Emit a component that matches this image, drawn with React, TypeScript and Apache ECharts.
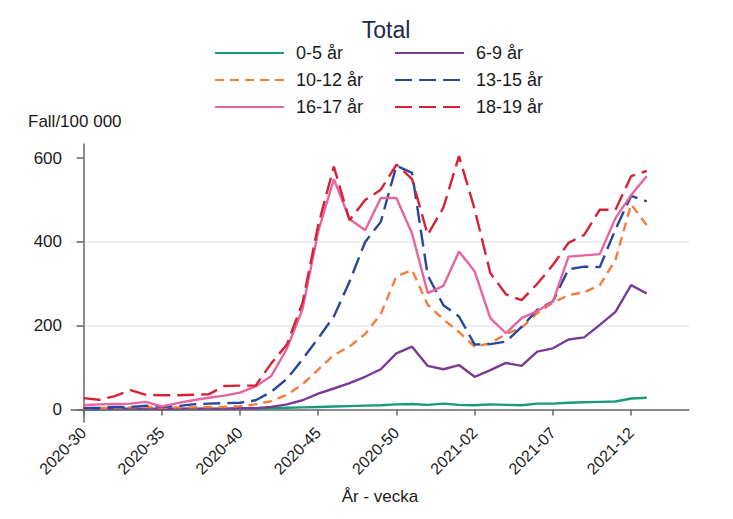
import React, { useEffect, useRef } from "react";
import * as echarts from "echarts";

const weeks = [
  "2020-30", "2020-31", "2020-32", "2020-33", "2020-34", "2020-35", "2020-36", "2020-37",
  "2020-38", "2020-39", "2020-40", "2020-41", "2020-42", "2020-43", "2020-44", "2020-45",
  "2020-46", "2020-47", "2020-48", "2020-49", "2020-50", "2020-51", "2020-52", "2020-53",
  "2021-01", "2021-02", "2021-03", "2021-04", "2021-05", "2021-06", "2021-07", "2021-08",
  "2021-09", "2021-10", "2021-11", "2021-12", "2021-13",
];
const tickWeeks = ["2020-30", "2020-35", "2020-40", "2020-45", "2020-50", "2021-02", "2021-07", "2021-12"];
const yTicks = [0, 200, 400, 600];
const seriesNames = ["0-5 år", "6-9 år", "10-12 år", "13-15 år", "16-17 år", "18-19 år"];

const age0_5 = [0, 0, 1, 1, 1, 1, 1, 1, 1, 1, 2, 2, 3, 4, 5, 6, 7, 8, 9, 10, 12, 13, 11, 14, 11, 10, 12, 11, 10, 14, 14, 16, 17, 18, 19, 26, 28];
const age6_9 = [1, 1, 2, 2, 2, 1, 2, 2, 2, 2, 3, 3, 6, 12, 22, 38, 50, 63, 78, 96, 134, 150, 104, 96, 106, 78, 94, 111, 104, 138, 146, 167, 172, 202, 233, 297, 277];
const age10_12 = [2, 3, 4, 5, 6, 4, 5, 5, 6, 6, 8, 12, 20, 35, 60, 95, 130, 150, 180, 228, 318, 333, 250, 215, 185, 150, 158, 180, 195, 230, 255, 273, 280, 297, 357, 490, 440];
const age13_15 = [3, 4, 6, 6, 9, 6, 8, 12, 14, 15, 16, 22, 42, 73, 120, 170, 222, 305, 400, 448, 582, 565, 320, 249, 222, 155, 156, 162, 197, 238, 258, 335, 341, 340, 430, 510, 497];
const age16_17 = [10, 12, 13, 14, 18, 7, 15, 22, 28, 33, 40, 55, 80, 145, 240, 425, 550, 455, 428, 505, 505, 420, 278, 295, 377, 330, 218, 182, 218, 235, 257, 365, 368, 371, 457, 512, 557];
const age18_19 = [27, 23, 32, 46, 35, 34, 34, 35, 36, 56, 57, 57, 110, 155, 255, 440, 580, 452, 500, 525, 585, 550, 417, 482, 605, 478, 326, 275, 261, 300, 345, 398, 417, 477, 477, 557, 570];

const FONT = "'Liberation Sans', Arial, sans-serif";

export default function App() {
  const ref = useRef<HTMLDivElement>(null);
  useEffect(() => {
    document.body.style.margin = "0";
    const chart = echarts.init(ref.current as HTMLDivElement, null, { renderer: "svg" });
    const values = [age0_5, age6_9, age10_12, age13_15, age16_17, age18_19];
    const styles: any[] = [
      { color: "#1b9a78", type: "solid" },
      { color: "#7b3a93", type: "solid" },
      { color: "#f47c3c", type: [9, 6] },
      { color: "#27479a", type: [17, 7] },
      { color: "#e8649f", type: "solid" },
      { color: "#d42237", type: [17, 7] },
    ];
    const legendPos = [[214, 44], [394, 44], [214, 71], [394, 71], [214, 98], [394, 98]];
    const tickIdx = tickWeeks.map((w) => weeks.indexOf(w));

    const option: any = {
      animation: false,
      textStyle: { fontFamily: FONT },
      title: {
        text: "Total",
        left: 381,
        top: 13,
        textAlign: "center",
        textStyle: { fontFamily: FONT, fontSize: 23, fontWeight: "normal", color: "#1e2a48" },
      },
      legend: seriesNames.map((n, i) => ({
        data: [n],
        left: legendPos[i][0],
        top: legendPos[i][1],
        padding: 0,
        itemWidth: 69,
        itemHeight: 18,
        selectedMode: false,
        itemStyle: { opacity: 0 },
        textStyle: { fontFamily: FONT, fontSize: 18, color: "#1a1a1a", padding: [0, 0, 0, 7], lineHeight: 18 },
      })),
      grid: { left: 71, right: 44, top: 144, bottom: 97 },
      xAxis: {
        type: "value",
        min: -0.8,
        max: 38.7,
        axisLine: { show: true, lineStyle: { color: "#666", width: 1.5 } },
        axisTick: { show: true, customValues: tickIdx, length: 6, lineStyle: { color: "#666", width: 1.5 } },
        axisLabel: {
          customValues: tickIdx,
          rotate: 45,
          margin: 8,
          fontSize: 16,
          color: "#1a1a1a",
          fontFamily: FONT,
          formatter: (v: number) => weeks[Math.round(v)] ?? "",
        },
        splitLine: { show: false },
      },
      yAxis: {
        type: "value",
        min: -30,
        max: 634,
        splitNumber: 3,
        axisLine: { show: true, lineStyle: { color: "#666", width: 1.5 } },
        axisTick: { show: true, customValues: yTicks, length: 7, lineStyle: { color: "#666", width: 1.5 } },
        axisLabel: { customValues: yTicks, margin: 9, fontSize: 17, color: "#1a1a1a", fontFamily: FONT },
        splitLine: { show: true, showMinLine: false, showMaxLine: false, lineStyle: { color: "#e4ecee", width: 1.5 } },
      },
      graphic: [
        { type: "text", left: 28, top: 113, style: { text: "Fall/100 000", font: `17px ${FONT}`, fill: "#1a1a1a" } },
        { type: "text", x: 380, y: 496, style: { text: "År - vecka", font: `17px ${FONT}`, fill: "#1a1a1a", textAlign: "center", textVerticalAlign: "middle" } },
      ],
      series: seriesNames.map((n, i) => ({
        name: n,
        type: "line",
        symbol: "none",
        color: styles[i].color,
        lineStyle: { color: styles[i].color, width: 2.4, type: styles[i].type },
        data: values[i].map((v, k) => [k, v]),
        z: 2 + i,
      })),
    };
    chart.setOption(option);
    return () => chart.dispose();
  }, []);
  return <div ref={ref} style={{ position: "absolute", left: 0, top: 0, width: 733, height: 519 }} />;
}
